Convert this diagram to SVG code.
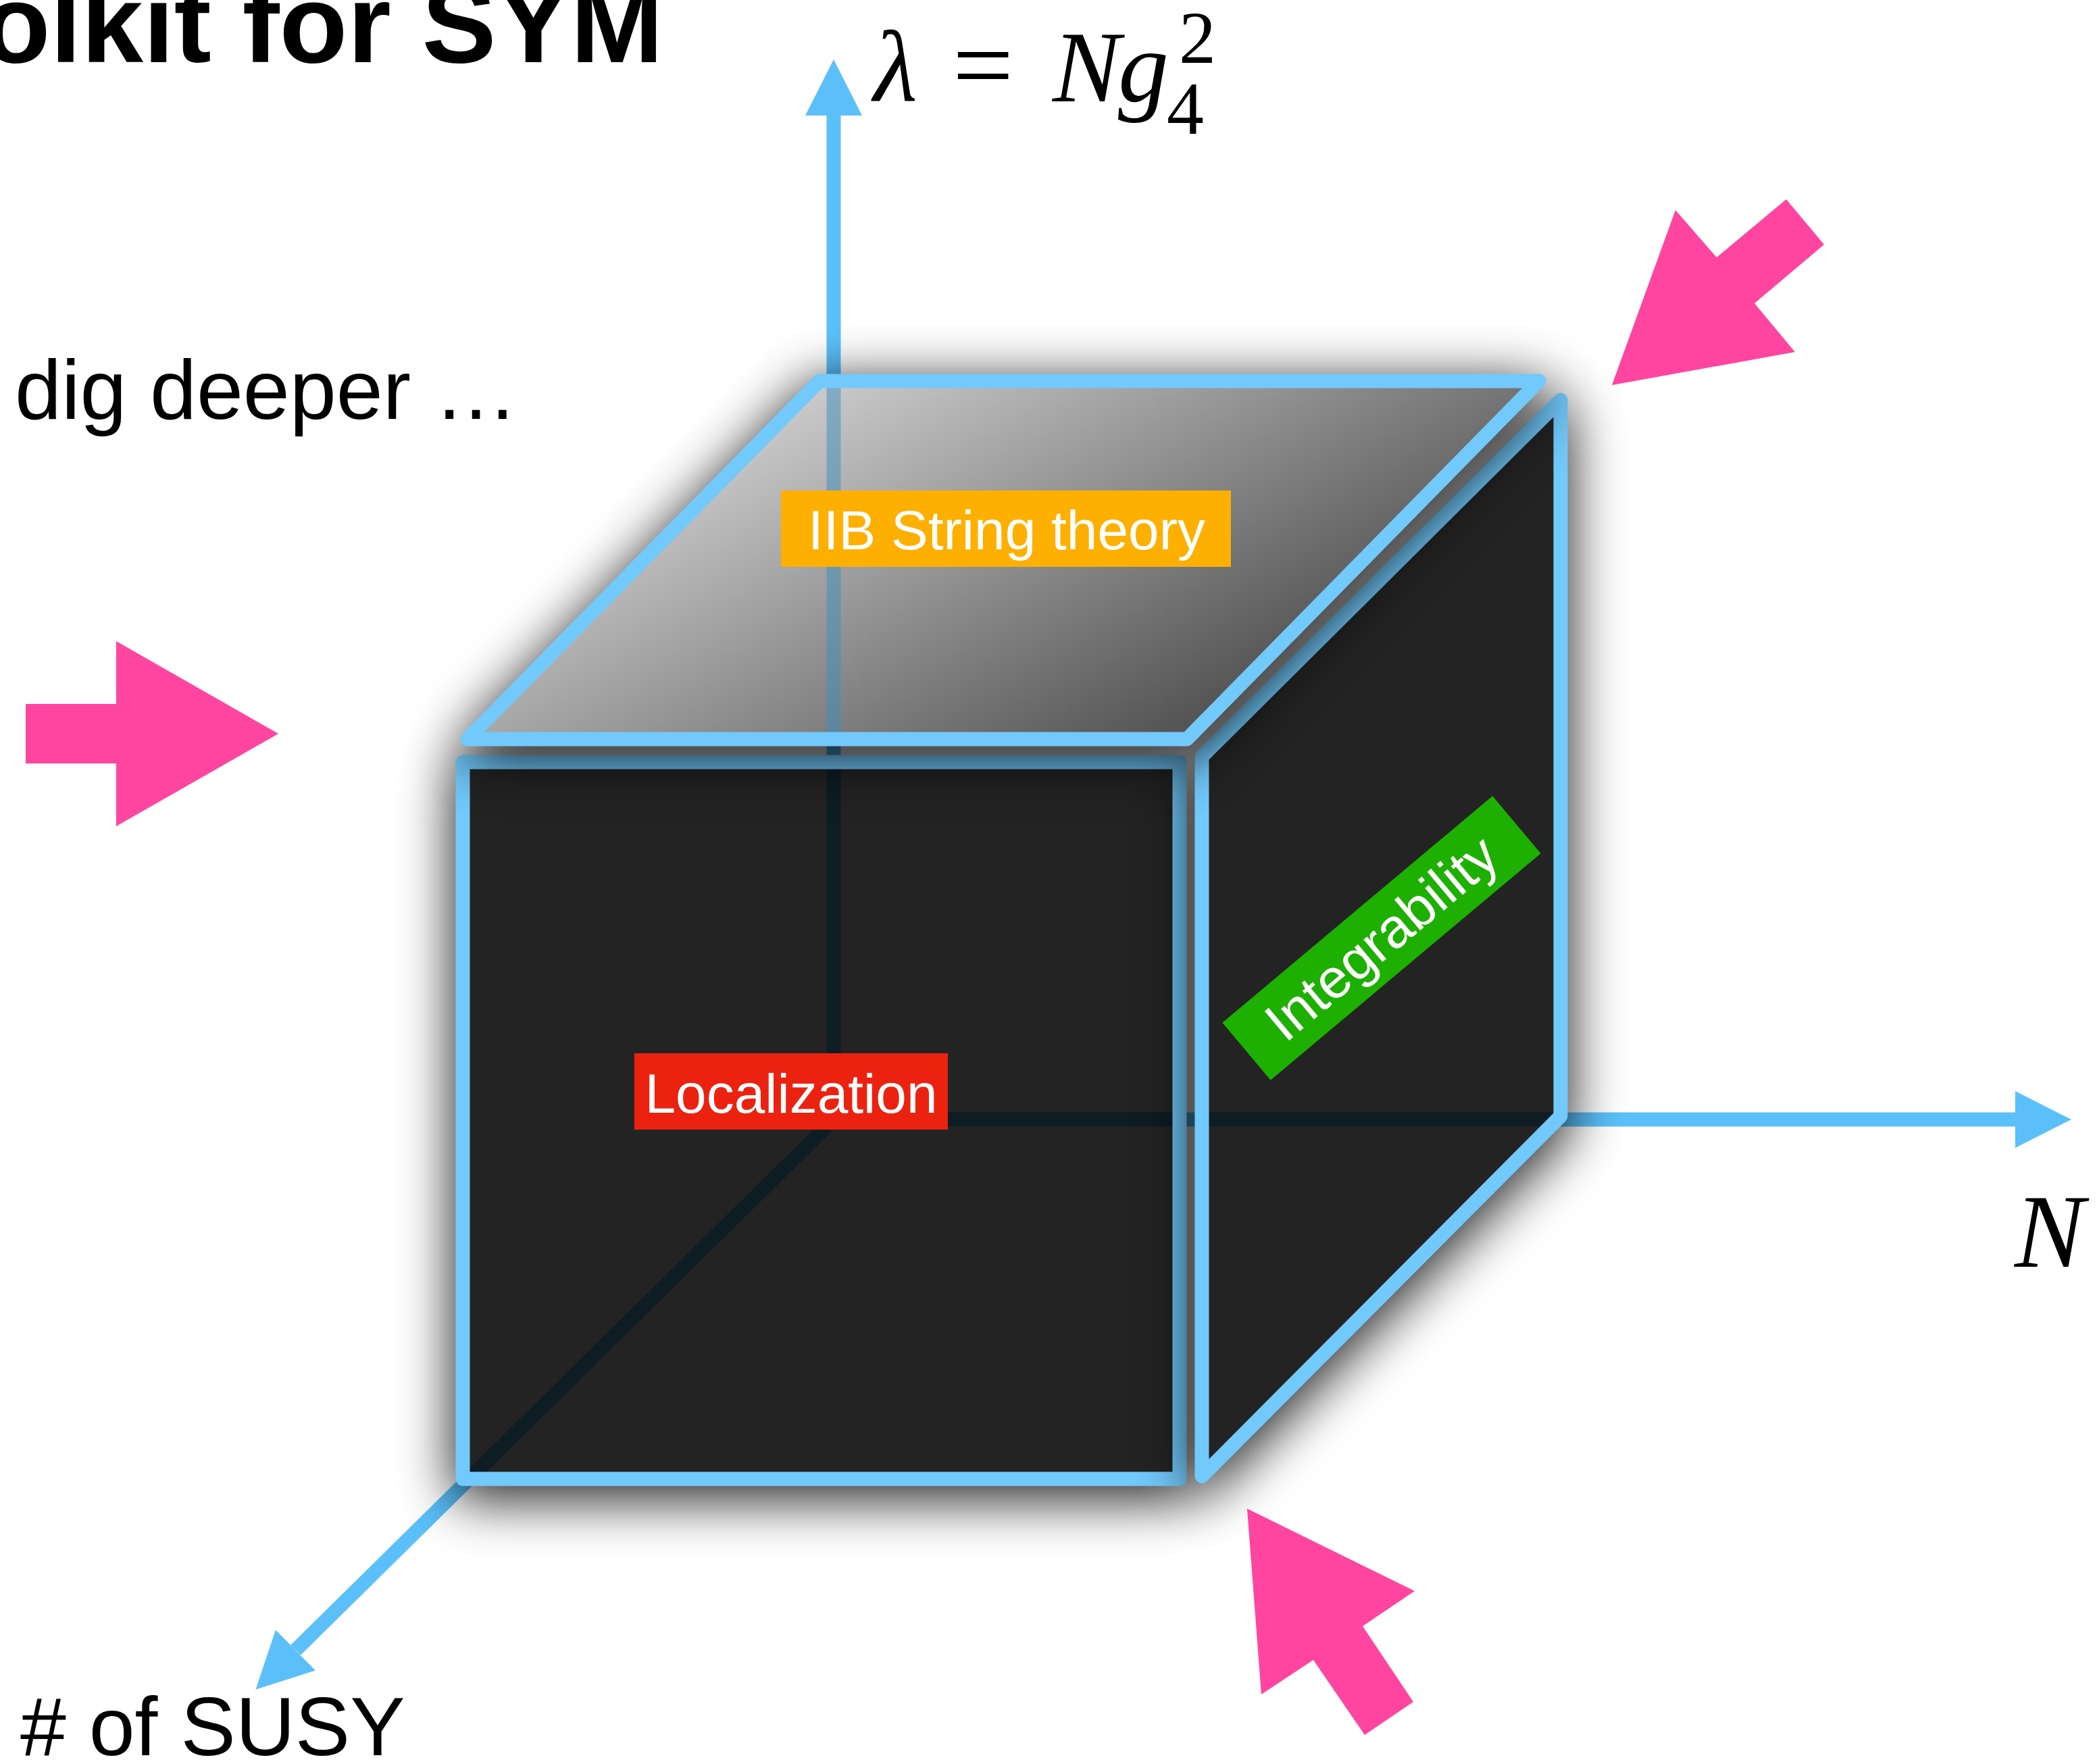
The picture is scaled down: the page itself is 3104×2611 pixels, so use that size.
<svg xmlns="http://www.w3.org/2000/svg" width="3104" height="2611" viewBox="0 0 3104 2611">
<style>
.ax{stroke:#5bc0fa;stroke-width:21;fill:none}
.dk{stroke:#0e1c24;stroke-width:21;fill:none}
.edge{stroke:#72c9fb;stroke-width:21;stroke-linejoin:round;fill:none}
.shadow{fill:#000;stroke:#000;stroke-width:30;stroke-linejoin:round;opacity:0.85}
.face{fill:#232323}
.pink{fill:#ff45a0}
.lbl{font-family:"Liberation Sans",Arial,Helvetica,sans-serif;font-size:82px;fill:#ffffff}
.txt{font-family:"Liberation Sans",Arial,Helvetica,sans-serif;fill:#000}
.math{font-family:"Liberation Serif","Times New Roman",serif;fill:#000}
</style>
<defs>
<marker id="head" viewBox="0 0 83 84" markerWidth="83" markerHeight="84" refX="0" refY="42" orient="auto" markerUnits="userSpaceOnUse">
<path d="M0,0 L83,42 L0,84 Z" fill="#5bc0fa"/>
</marker>
<filter id="blur" x="-25%" y="-25%" width="150%" height="155%">
<feGaussianBlur stdDeviation="40"/>
<feOffset dy="16"/>
</filter>
<linearGradient id="topgrad" gradientUnits="userSpaceOnUse" x1="1200" y1="537" x2="1560" y2="1178">
<stop offset="0" stop-color="#d0d0d0"/>
<stop offset="1" stop-color="#555555"/>
</linearGradient>
</defs>
<rect x="0" y="0" width="3104" height="2611" fill="#ffffff"/>

<g id="title">
<text class="txt" x="982" y="92" font-size="165" font-weight="bold" text-anchor="end">olkit for SYM</text>
</g>
<g id="subtitle">
<text class="txt" x="22" y="620" font-size="124">dig deeper …</text>
</g>

<g id="connectors">
<line id="axis-lambda" class="ax" x1="1234" y1="1657" x2="1234" y2="171" marker-end="url(#head)"/>
<line id="axis-N" class="ax" x1="1234" y1="1657" x2="2983" y2="1657" marker-end="url(#head)"/>
<line id="axis-susy" class="ax" x1="1234" y1="1657" x2="437.5" y2="2442.5" marker-end="url(#head)"/>
</g>

<g id="front-face">
<rect class="shadow" x="685" y="1128" width="1061" height="1061" filter="url(#blur)"/>
<rect class="face" x="685" y="1128" width="1061" height="1061"/>
<line class="dk" x1="1234" y1="1128" x2="1234" y2="1657"/>
<line class="dk" x1="1223.5" y1="1657" x2="1746" y2="1657"/>
<line class="dk" x1="1234" y1="1657" x2="694.6" y2="2189"/>
<rect class="edge" x="685" y="1128" width="1061" height="1061"/>
</g>

<g id="right-face">
<polygon class="shadow" points="1779,1120 2310,592 2310,1652 1779,2185" filter="url(#blur)"/>
<polygon class="face" points="1779,1120 2310,592 2310,1652 1779,2185"/>
<line class="dk" x1="1779" y1="1657" x2="2305" y2="1657"/>
<polygon class="edge" points="1779,1120 2310,592 2310,1652 1779,2185"/>
</g>

<g id="top-face">
<polygon class="shadow" points="692,1094 1757,1094 2278,564 1213,564" filter="url(#blur)"/>
<polygon points="692,1094 1757,1094 2278,564 1213,564" fill="url(#topgrad)"/>
<line x1="1234" y1="564" x2="1234" y2="1094" stroke="#3f8fc0" stroke-width="21" opacity="0.5"/>
<polygon class="edge" points="692,1094 1757,1094 2278,564 1213,564"/>
</g>

<g id="label-iib">
<rect x="1156" y="726" width="666" height="113" fill="#feb000"/>
<text class="lbl" x="1490" y="813" text-anchor="middle">IIB String theory</text>
</g>

<g id="label-localization">
<rect x="939" y="1559" width="464" height="113" fill="#ec2210"/>
<text class="lbl" x="1171" y="1647" text-anchor="middle">Localization</text>
</g>

<g id="label-integrability" transform="translate(2045,1388.5) rotate(-40)">
<rect x="-261" y="-55.5" width="522" height="111" fill="#1eb000"/>
<text class="lbl" x="0" y="28" text-anchor="middle">Integrability</text>
</g>

<g id="axis-label-lambda">
<text class="math" x="1293" y="150" font-size="150" font-style="italic">λ</text>
<text class="math" x="1410" y="150" font-size="160">=</text>
<text class="math" x="1558" y="150" font-size="150" font-style="italic">N</text>
<text class="math" x="1655" y="150" font-size="150" font-style="italic">g</text>
<text class="math" x="1745" y="93" font-size="110">2</text>
<text class="math" x="1727" y="198" font-size="110">4</text>
</g>
<g id="axis-label-N">
<text class="math" x="2982" y="1875" font-size="155" font-style="italic">N</text>
</g>
<g id="axis-label-susy">
<text class="txt" x="30" y="2598" font-size="122"># of SUSY</text>
</g>

<g id="pink-arrows">
<polygon class="pink" points="38,1042 172,1042 172,949 412,1086 172,1223 172,1130 38,1130"/>
<polygon class="pink" points="2644,295 2700,362 2597,449 2657,521 2386,570 2480,311 2541,381"/>
<polygon class="pink" points="1846,2233 2094,2355 2017,2407 2092,2519 2020,2568 1944,2457 1867,2508"/>
</g>
</svg>
